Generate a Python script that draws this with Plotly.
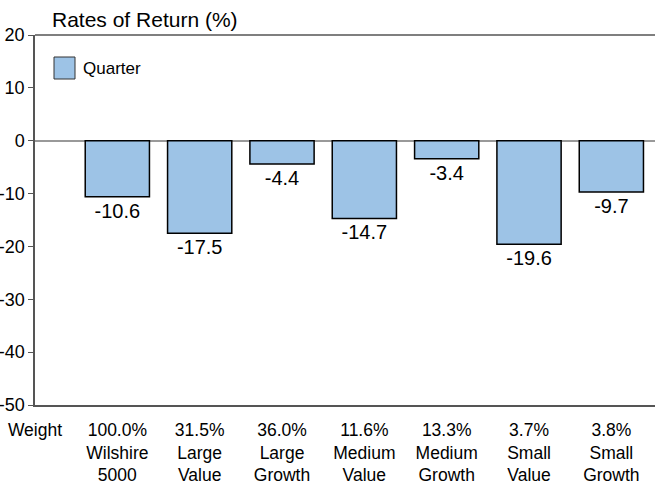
import plotly.graph_objects as go

categories = ["Wilshire<br>5000", "Large<br>Value", "Large<br>Growth", "Medium<br>Value",
              "Medium<br>Growth", "Small<br>Value", "Small<br>Growth"]
weights = ["100.0%", "31.5%", "36.0%", "11.6%", "13.3%", "3.7%", "3.8%"]
quarter = [-10.6, -17.5, -4.4, -14.7, -3.4, -19.6, -9.7]
y_ticks = [20, 10, 0, -10, -20, -30, -40, -50]
series_name = "Quarter"

positions = list(range(1, len(categories) + 1))
tick_text = ["Weight"] + [f"{w}<br>{c}" for w, c in zip(weights, categories)]

FONT = "Liberation Sans, Arial, sans-serif"
W, H = 657, 486
L, R, T, B = 35, 2, 35, 81

fig = go.Figure()
fig.add_trace(go.Bar(
    x=positions, y=quarter, width=0.78, name=series_name,
    marker=dict(color="#9DC3E6", line=dict(color="#000000", width=1.5)),
    text=[f"{v:.1f}" for v in quarter], textposition="outside",
    textfont=dict(size=20, color="#000000", family=FONT),
    cliponaxis=False, showlegend=False,
))

fig.update_layout(
    width=W, height=H,
    margin=dict(l=L, r=R, t=T, b=B, autoexpand=False),
    plot_bgcolor="white", paper_bgcolor="white",
    font=dict(family=FONT, color="#000000"),
    title=dict(text="Rates of Return (%)", x=52/W, xanchor="left", y=1 - 20/H, yanchor="middle",
               font=dict(size=21, family=FONT, color="#000000")),
    showlegend=False,
)
fig.update_xaxes(
    range=[0, 7.53], tickvals=[0] + positions, ticktext=tick_text, automargin=False,
    showgrid=False, zeroline=False, showline=True, linecolor="#555555", linewidth=1.5,
    ticks="", ticklabelstandoff=8,
    tickfont=dict(size=17.5, family=FONT, color="#000000"), tickangle=0,
)
fig.update_yaxes(
    range=[-50, 20], tickvals=y_ticks, ticktext=[str(v) for v in y_ticks], automargin=False,
    showgrid=False,
    zeroline=True, zerolinecolor="#999999", zerolinewidth=1.5,
    showline=True, linecolor="#555555", linewidth=1.5,
    ticks="outside", ticklen=5, tickcolor="#555555",
    tickfont=dict(size=18, family=FONT, color="#000000"),
)
fig.add_shape(type="line", xref="paper", yref="paper", x0=0, x1=1, y0=1, y1=1,
              line=dict(color="#555555", width=1.5))

# legend swatch and label
pw, ph = W - L - R, H - T - B
def px(x): return (x - L) / pw
def py(y): return 1 - (y - T) / ph
fig.add_shape(type="rect", xref="paper", yref="paper",
              x0=px(54), x1=px(75), y0=py(79), y1=py(57),
              fillcolor="#9DC3E6", line=dict(color="#333333", width=1))
fig.add_annotation(text=series_name, xref="paper", yref="paper", x=px(81), y=py(68),
                   xanchor="left", yanchor="middle", showarrow=False,
                   font=dict(size=17, family=FONT, color="#000000"))

fig.write_html("out.html", config={"displayModeBar": False},
               post_script="document.body.style.margin='0';")
